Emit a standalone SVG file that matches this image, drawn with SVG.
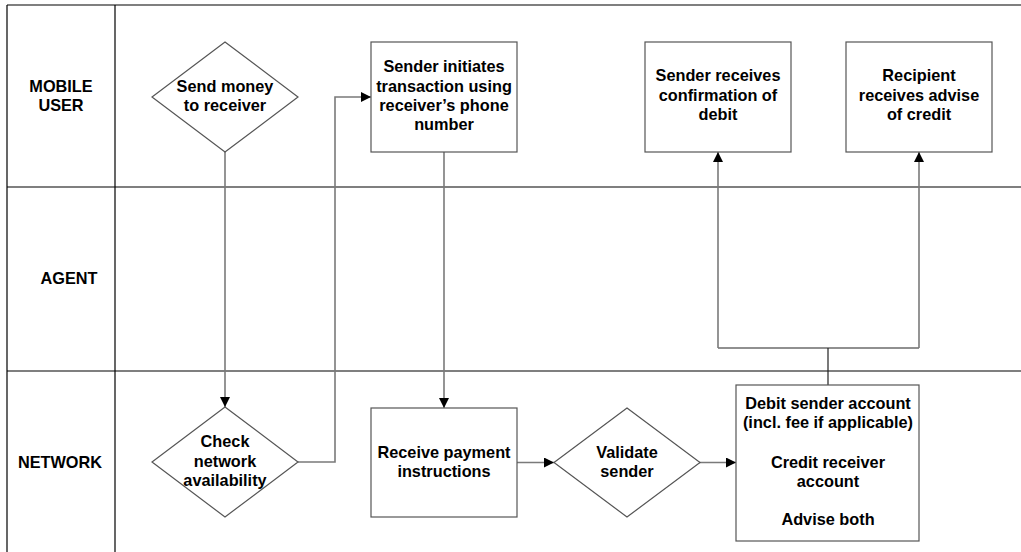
<svg xmlns="http://www.w3.org/2000/svg" width="1021" height="552" viewBox="0 0 1021 552">
  <style>
    .lane { stroke: #000; stroke-width: 1.2; fill: none; }
    .shape { fill: #fff; stroke: #555; stroke-width: 1.2; }
    .link { fill: none; stroke: #7a7a7a; stroke-width: 1.6; }
    .link-thin { fill: none; stroke: #222; stroke-width: 1.2; }
    text { font-family: "Liberation Sans", Arial, sans-serif; font-weight: bold; font-size: 16.3px; fill: #000; text-anchor: middle; }
  </style>
  <defs>
    <marker id="arrow" viewBox="0 0 10 10" refX="10" refY="5" markerWidth="10" markerHeight="10" markerUnits="userSpaceOnUse" orient="auto">
      <path d="M0,0 L10,5 L0,10 Z" fill="#000"/>
    </marker>
  </defs>

  <rect width="1021" height="552" fill="#fff"/>

  <!-- swimlane grid -->
  <g id="lanes">
    <line class="lane" x1="7" y1="5" x2="1021" y2="5"/>
    <line class="lane" x1="7" y1="5" x2="7" y2="552" stroke="#666"/>
    <line class="lane" x1="115" y1="5" x2="115" y2="552"/>
    <line class="lane" x1="7" y1="187" x2="1021" y2="187"/>
    <line class="lane" x1="7" y1="371" x2="1021" y2="371"/>
    <text x="61" y="92">MOBILE</text>
    <text x="61" y="111">USER</text>
    <text x="69" y="284">AGENT</text>
    <text x="60" y="468">NETWORK</text>
  </g>

  <!-- connectors -->
  <g id="connectors">
    <path class="link" d="M225,152 V407" marker-end="url(#arrow)"/>
    <path class="link" d="M298,462 H335 V97 H371" marker-end="url(#arrow)"/>
    <path class="link" d="M444,152 V408" marker-end="url(#arrow)"/>
    <path class="link" d="M517,462.5 H554" marker-end="url(#arrow)"/>
    <path class="link" d="M699,462.5 H736" marker-end="url(#arrow)"/>
    <path class="link-thin" d="M828,385 V348 M718,348 H919"/>
    <path class="link" d="M718,348 V152" marker-end="url(#arrow)"/>
    <path class="link" d="M919,348 V152" marker-end="url(#arrow)"/>
  </g>

  <g id="send-money">
    <polygon class="shape" points="225,42 298,97 225,152 152,97"/>
    <text x="225" y="92">Send money</text>
    <text x="225" y="111">to receiver</text>
  </g>

  <g id="sender-initiates">
    <rect class="shape" x="371" y="42" width="146" height="110"/>
    <text x="444" y="72">Sender initiates</text>
    <text x="444" y="92">transaction using</text>
    <text x="444" y="111">receiver’s phone</text>
    <text x="444" y="130">number</text>
  </g>

  <g id="sender-confirmation">
    <rect class="shape" x="645" y="42" width="146" height="110"/>
    <text x="718" y="81">Sender receives</text>
    <text x="718" y="101">confirmation of</text>
    <text x="718" y="120">debit</text>
  </g>

  <g id="recipient-advice">
    <rect class="shape" x="846" y="42" width="146" height="110"/>
    <text x="919" y="81">Recipient</text>
    <text x="919" y="101">receives advise</text>
    <text x="919" y="120">of credit</text>
  </g>

  <g id="check-network">
    <polygon class="shape" points="225,407 298,462 225,517 152,462"/>
    <text x="225" y="447">Check</text>
    <text x="225" y="467">network</text>
    <text x="225" y="486">availability</text>
  </g>

  <g id="receive-payment">
    <rect class="shape" x="371" y="408" width="146" height="109"/>
    <text x="444" y="458">Receive payment</text>
    <text x="444" y="477">instructions</text>
  </g>

  <g id="validate-sender">
    <polygon class="shape" points="627,408 700,462.5 627,517 554,462.5"/>
    <text x="627" y="458">Validate</text>
    <text x="627" y="477">sender</text>
  </g>

  <g id="debit-credit">
    <rect class="shape" x="736" y="385" width="183" height="156"/>
    <text x="828" y="409">Debit sender account</text>
    <text x="828" y="428">(incl. fee if applicable)</text>
    <text x="828" y="468">Credit receiver</text>
    <text x="828" y="487">account</text>
    <text x="828" y="525">Advise both</text>
  </g>
</svg>
